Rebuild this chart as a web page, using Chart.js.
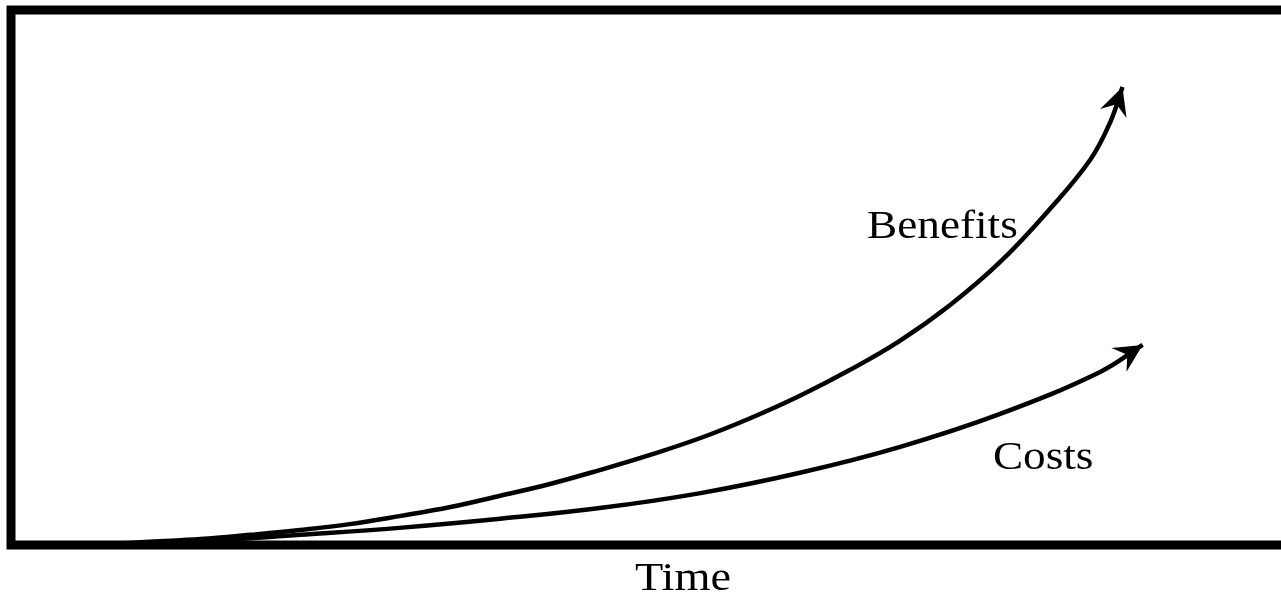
<!DOCTYPE html>
<html>
<head>
<meta charset="utf-8">
<title>Benefits and Costs over Time</title>
<script src="https://cdn.jsdelivr.net/npm/chart.js@4.4.0/dist/chart.umd.min.js"></script>
<style>
    html, body {
        margin: 0;
        padding: 0;
        background: #ffffff;
        overflow: hidden;
    }
    .chart-container {
        position: relative;
        width: 1360px;
        height: 600px;
    }
</style>
</head>
<body>
<div class="chart-container">
    <canvas id="growthChart"></canvas>
</div>
<script>
// Curves (time 0-100, value 0-100)
const benefitsX = [6.6, 10.3, 14.1, 17.8, 21.5, 25.2, 28.9, 32.7, 36.4, 40.1, 43.8, 47.5, 51.3,
    55.0, 58.7, 62.4, 66.1, 69.9, 73.6, 77.3, 80.3, 81.8, 82.7];
const benefitsY = [0, 0.6, 1.1, 1.9, 2.8, 3.9, 5.4, 7.1, 9.2, 11.4, 14.0, 16.8, 20.0,
    23.7, 27.9, 32.7, 38.1, 44.9, 52.9, 62.8, 72.0, 79.1, 85.6];

const costsX = [6.6, 14.1, 21.5, 28.9, 36.4, 43.8, 51.3, 58.7, 66.1, 73.6, 81.0, 84.2];
const costsY = [0, 0.7, 1.9, 3.2, 4.9, 6.9, 9.7, 13.5, 18.3, 24.5, 32.3, 37.4];

// Text labels and where they sit (data units)
const seriesLabels = ['Benefits', 'Costs'];
const labelX = [69.3, 76.8];
const labelY = [59.3, 16.1];
const axisTitle = 'Time';

function toPoints(xs, ys) {
    return xs.map((x, i) => ({ x: x, y: ys[i] }));
}

// Thick frame round the plot area
const framePlugin = {
    id: 'frame',
    afterDatasetsDraw(chart) {
        const { ctx, chartArea } = chart;
        ctx.save();
        ctx.strokeStyle = '#000';
        ctx.lineWidth = 9;
        ctx.lineJoin = 'miter';
        ctx.strokeRect(chartArea.left, chartArea.top,
            chartArea.right - chartArea.left, chartArea.bottom - chartArea.top);
        ctx.restore();
    }
};

// Arrow heads at the end of every curve
const arrowPlugin = {
    id: 'arrowHeads',
    afterDatasetsDraw(chart) {
        const ctx = chart.ctx;
        chart.data.datasets.forEach((ds, i) => {
            const pts = chart.getDatasetMeta(i).data;
            const last = pts[pts.length - 1];
            const prev = pts[pts.length - 2];
            let fx = last.cp1x !== undefined ? last.cp1x : prev.x;
            let fy = last.cp1y !== undefined ? last.cp1y : prev.y;
            let dx = last.x - fx, dy = last.y - fy;
            const len = Math.hypot(dx, dy) || 1;
            dx /= len; dy /= len;
            const nx = -dy, ny = dx;
            const L = 28, W = 14;
            ctx.save();
            ctx.fillStyle = '#000';
            ctx.beginPath();
            ctx.moveTo(last.x, last.y);
            ctx.lineTo(last.x - dx * L + nx * W, last.y - dy * L + ny * W);
            ctx.lineTo(last.x - dx * L * 0.65, last.y - dy * L * 0.65);
            ctx.lineTo(last.x - dx * L - nx * W, last.y - dy * L - ny * W);
            ctx.closePath();
            ctx.fill();
            ctx.restore();
        });
    }
};

// Curve names and the axis title, slightly wide serif lettering
const textPlugin = {
    id: 'curveText',
    afterDraw(chart) {
        const { ctx, chartArea, scales } = chart;
        function wideText(text, x, y, size, stretch) {
            ctx.save();
            ctx.translate(x, y);
            ctx.scale(stretch, 1);
            ctx.font = size + 'px "Liberation Serif", "Times New Roman", serif';
            ctx.fillStyle = '#000';
            ctx.textAlign = 'center';
            ctx.textBaseline = 'middle';
            ctx.fillText(text, 0, 0);
            ctx.restore();
        }
        seriesLabels.forEach((name, i) => {
            wideText(name, scales.x.getPixelForValue(labelX[i]),
                scales.y.getPixelForValue(labelY[i]), 39, 1.16);
        });
        wideText(axisTitle, (chartArea.left + chartArea.right) / 2,
            chartArea.bottom + 34, 41, 1.13);
    }
};

document.addEventListener('DOMContentLoaded', function() {
    const ctx = document.getElementById('growthChart');
    new Chart(ctx, {
        type: 'line',
        data: {
            datasets: [{
                label: seriesLabels[0],
                data: toPoints(benefitsX, benefitsY),
                borderColor: '#000',
                borderWidth: 4.5,
                pointRadius: 0,
                tension: 0.4,
                fill: false
            }, {
                label: seriesLabels[1],
                data: toPoints(costsX, costsY),
                borderColor: '#000',
                borderWidth: 4.5,
                pointRadius: 0,
                tension: 0.4,
                fill: false
            }]
        },
        options: {
            responsive: true,
            maintainAspectRatio: false,
            animation: false,
            layout: {
                padding: { left: 11, top: 10, right: 5, bottom: 55 }
            },
            plugins: {
                legend: { display: false },
                tooltip: { enabled: false }
            },
            scales: {
                x: { type: 'linear', min: 0, max: 100, display: false },
                y: { min: 0, max: 100, display: false }
            }
        },
        plugins: [framePlugin, arrowPlugin, textPlugin]
    });
});
</script>
</body>
</html>
